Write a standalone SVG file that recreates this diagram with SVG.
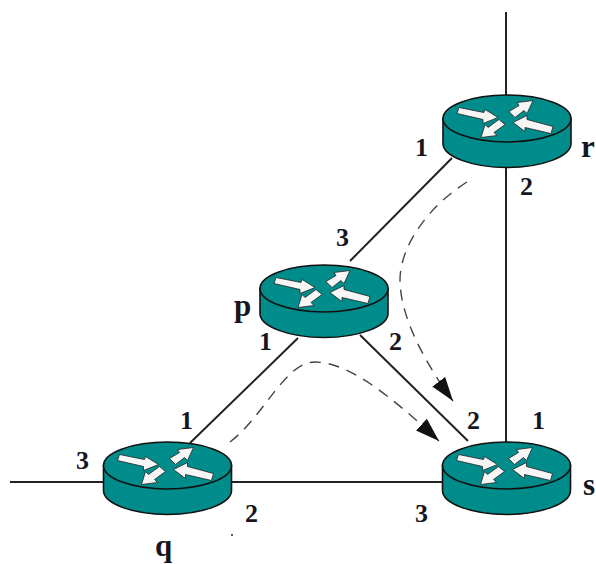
<svg xmlns="http://www.w3.org/2000/svg" width="596" height="564" viewBox="0 0 596 564">
<style>
.link{stroke:#222;stroke-width:2;fill:none}
.flow{stroke:#444;stroke-width:1.4;fill:none;stroke-dasharray:11 8}
.body{fill:#008c8a;stroke:#111;stroke-width:1.6}
.arrow{fill:#f6f6f6;stroke:#222;stroke-width:.8}
text{font-family:"Liberation Serif","Times New Roman",serif;font-weight:bold;font-size:26px;fill:#16161e}
.name{font-size:31px}
</style>
<defs>
<marker id="head" markerUnits="userSpaceOnUse" markerWidth="26" markerHeight="18" refX="24" refY="8" orient="auto">
<path d="M0 0L24 8L0 16Z" fill="#111"/>
</marker>
<g id="router">
<path class="body" d="M-64 0V25C-64 38 -35 49 0 49S64 38 64 25V0Z"/>
<ellipse class="body" cx="0" cy="0" rx="64" ry="23.500"/>
<g class="arrow">
<path d="M-48 -11L-23 -6L-22 -9L-9 -1L-24 5L-24 1L-50 -5Z"/>
<path d="M2 -7L12 -13L10 -16L26 -18L20 -5L17 -8L8 -1Z"/>
<path d="M-26 19L-22 6L-19 9L-8 1L-2 6L-13 14L-10 17Z"/>
<path d="M6 4L20 -3L20 1L46 8L44 15L18 9L18 13Z"/>
</g>
</g>
</defs>
<g id="connectors">
<path class="link" d="M506 12V95"/>
<path class="link" d="M506 167V443"/>
<path class="link" d="M452 158L350 261"/>
<path class="link" d="M298 338L190 443"/>
<path class="link" d="M360 335L468 441"/>
<path class="link" d="M232 482H443"/>
<path class="link" d="M10 482H103"/>
<path class="flow" d="M467 182C430 205 400 245 400 280C400 320 430 370 453 401" marker-end="url(#head)"/>
<path class="flow" d="M230 442C265 415 285 362 315 362C350 362 395 400 439 441" marker-end="url(#head)"/>
</g>
<g id="node-r"><use href="#router" x="507" y="118.500"/><text class="name" x="581" y="157">r</text></g>
<g id="node-p"><use href="#router" x="324" y="288.500"/><text class="name" x="234" y="316">p</text></g>
<g id="node-q"><use href="#router" x="167.500" y="465.500"/><text class="name" x="155" y="556">q</text></g>
<g id="node-s"><use href="#router" x="506.500" y="465.500"/><text class="name" x="583" y="495">s</text></g>
<g id="labels">
<text x="415" y="156">1</text>
<text x="520" y="195">2</text>
<text x="336" y="246">3</text>
<text x="259" y="350">1</text>
<text x="389" y="350">2</text>
<text x="180" y="429">1</text>
<text x="76" y="469">3</text>
<text x="245" y="522">2</text>
<text x="467" y="429">2</text>
<text x="532" y="429">1</text>
<text x="415" y="522">3</text>
<circle cx="232" cy="535" r="1" fill="#222"/>
</g>
</svg>
